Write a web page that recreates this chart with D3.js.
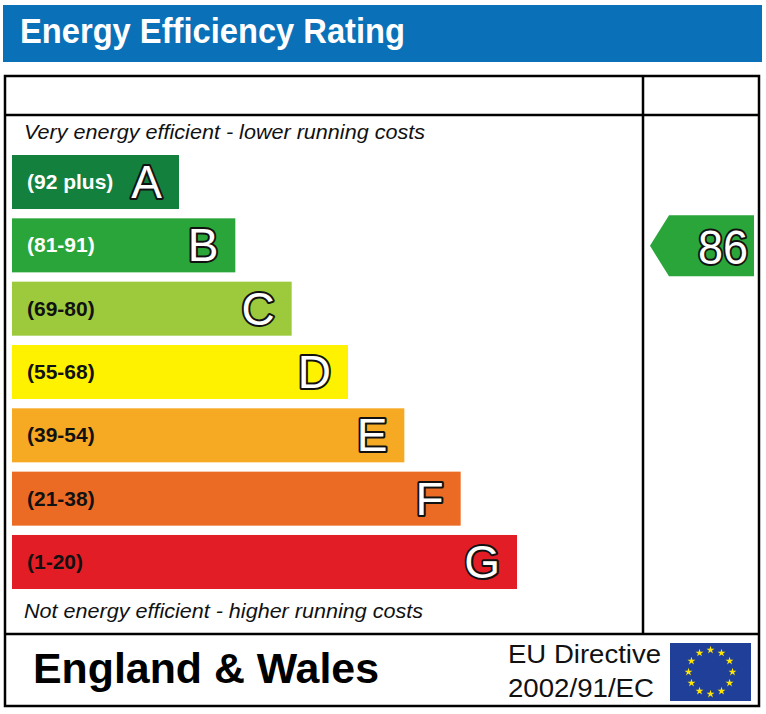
<!DOCTYPE html>
<meta charset="utf-8">
<style>
  body { margin: 0; background: #fff; }
  text { font-family: "Liberation Sans", Arial, sans-serif; }
</style>
<svg width="766" height="714"></svg>
<script src="https://cdn.jsdelivr.net/npm/d3@7"></script>
<script>
    // bands of the rating scale, best to worst
    var ratings = ["A", "B", "C", "D", "E", "F", "G"];
    var ranges = ["(92 plus)", "(81-91)", "(69-80)", "(55-68)", "(39-54)", "(21-38)", "(1-20)"];
    var bandMin = [92, 81, 69, 55, 39, 21, 1];
    var bandColors = ["#13803e", "#2aa53a", "#9cca3c", "#fff200", "#f6a923", "#ec6b24", "#e31d25"];
    var rangeText = ["#fff", "#fff", "#111", "#111", "#111", "#111", "#111"];
    var current = 86;

    var svg = d3.select("svg"),
        width = +svg.attr("width"),
        height = +svg.attr("height");

    // title bar
    svg.append("rect")
        .attr("x", 3).attr("y", 5)
        .attr("width", 759).attr("height", 57)
        .attr("fill", "#0a71b9");
    svg.append("text")
        .attr("x", 20).attr("y", 43)
        .attr("font-size", 35).attr("font-weight", "bold")
        .attr("fill", "#fff")
        .attr("textLength", 385).attr("lengthAdjust", "spacingAndGlyphs")
        .text("Energy Efficiency Rating");

    // table frame
    var frame = svg.append("g")
        .attr("fill", "none").attr("stroke", "#000").attr("stroke-width", 2.5);
    frame.append("rect").attr("x", 5).attr("y", 76).attr("width", 754).attr("height", 630);
    frame.append("line").attr("x1", 5).attr("x2", 759).attr("y1", 115).attr("y2", 115);
    frame.append("line").attr("x1", 643).attr("x2", 643).attr("y1", 76).attr("y2", 634);
    frame.append("line").attr("x1", 5).attr("x2", 759).attr("y1", 634).attr("y2", 634);

    svg.append("text")
        .attr("x", 24).attr("y", 139)
        .attr("font-size", 20).attr("font-style", "italic").attr("fill", "#111")
        .attr("textLength", 401).attr("lengthAdjust", "spacingAndGlyphs")
        .text("Very energy efficient - lower running costs");
    svg.append("text")
        .attr("x", 24).attr("y", 618)
        .attr("font-size", 20).attr("font-style", "italic").attr("fill", "#111")
        .attr("textLength", 399).attr("lengthAdjust", "spacingAndGlyphs")
        .text("Not energy efficient - higher running costs");

    var y = d3.scaleBand()
        .domain(ratings)
        .range([155, 589])
        .paddingInner(0.147);
    var w = d3.scaleLinear()
        .domain([0, ratings.length - 1])
        .range([167, 505]);
    var x0 = 12;

    var bars = svg.append("g").selectAll("g")
        .data(ratings)
        .join("g")
        .attr("transform", function(d) { return "translate(" + x0 + "," + y(d) + ")"; });

    bars.append("rect")
        .attr("width", function(d, i) { return w(i); })
        .attr("height", y.bandwidth())
        .attr("fill", function(d, i) { return bandColors[i]; });

    bars.append("text")
        .attr("x", 15)
        .attr("y", y.bandwidth() / 2 + 7)
        .attr("font-size", 21).attr("font-weight", "bold")
        .attr("fill", function(d, i) { return rangeText[i]; })
        .text(function(d, i) { return ranges[i]; });

    bars.append("text")
        .attr("x", function(d, i) { return w(i) - 17; })
        .attr("y", y.bandwidth() / 2 + 16)
        .attr("text-anchor", "end")
        .attr("font-size", 46)
        .attr("fill", "#fff").attr("stroke", "#111").attr("stroke-width", 4)
        .attr("paint-order", "stroke")
        .attr("stroke-linejoin", "round")
        .text(function(d) { return d; });

    // current rating arrow
    var band = ratings[bandMin.findIndex(function(m) { return current >= m; })];
    var ay0 = y(band) - 3, ay1 = y(band) + y.bandwidth() + 4, am = (ay0 + ay1) / 2;
    var ax0 = 650, ax1 = 754, as = 669;
    svg.append("path")
        .attr("d", d3.line()([[ax0, am], [as, ay0], [ax1, ay0], [ax1, ay1], [as, ay1]]) + "Z")
        .attr("fill", bandColors[ratings.indexOf(band)]);
    svg.append("text")
        .attr("x", ax1 - 6).attr("y", am + 18)
        .attr("text-anchor", "end")
        .attr("font-size", 48)
        .attr("fill", "#fff").attr("stroke", "#111").attr("stroke-width", 4)
        .attr("paint-order", "stroke").attr("stroke-linejoin", "round")
        .attr("textLength", 50).attr("lengthAdjust", "spacingAndGlyphs")
        .text(current);

    // footer
    svg.append("text")
        .attr("x", 33).attr("y", 683)
        .attr("font-size", 42).attr("font-weight", "bold").attr("fill", "#000")
        .attr("textLength", 346).attr("lengthAdjust", "spacingAndGlyphs")
        .text("England & Wales");
    svg.append("text")
        .attr("x", 508).attr("y", 663)
        .attr("font-size", 25).attr("fill", "#111")
        .attr("textLength", 153).attr("lengthAdjust", "spacingAndGlyphs")
        .text("EU Directive");
    svg.append("text")
        .attr("x", 508).attr("y", 697)
        .attr("font-size", 25).attr("fill", "#111")
        .attr("textLength", 146).attr("lengthAdjust", "spacingAndGlyphs")
        .text("2002/91/EC");

    // EU flag
    var flag = svg.append("g").attr("transform", "translate(670,643)");
    flag.append("rect").attr("width", 81).attr("height", 58).attr("fill", "#1f3f99");
    var star = d3.symbol().type(d3.symbolStar).size(20);
    flag.selectAll("path")
        .data(d3.range(12))
        .join("path")
        .attr("d", star)
        .attr("fill", "#ffe500")
        .attr("transform", function(i) {
            var a = i / 12 * 2 * Math.PI;
            return "translate(" + (40.5 + 22 * Math.sin(a)) + "," + (29 - 22 * Math.cos(a)) + ")";
        });
</script>
